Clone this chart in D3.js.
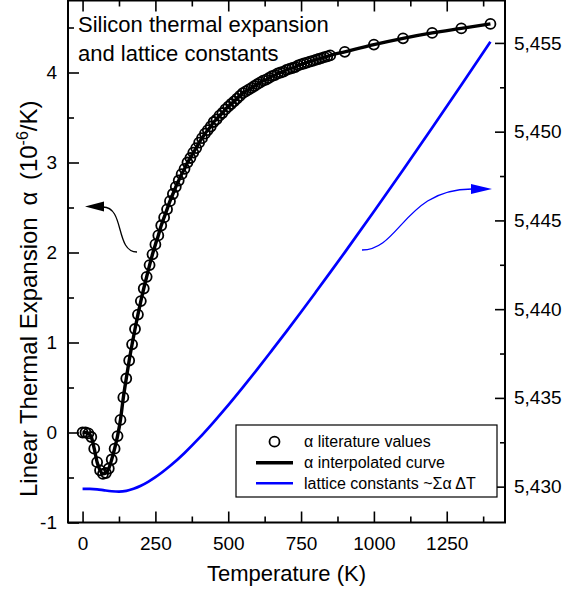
<!DOCTYPE html>
<html>
<head>
<meta charset="utf-8">
<script src="https://cdn.jsdelivr.net/npm/d3@7"></script>
<style>
  html, body { margin: 0; padding: 0; background: #fff; }
  svg { display: block; font-family: Arial, "Liberation Sans", sans-serif; }
</style>
</head>
<body>
<svg id="chart" width="564" height="592"></svg>
<script>
// Literature values of the linear thermal expansion coefficient of silicon (10^-6 / K)
const tempLit = [
  0, 10, 20, 30, 40, 50, 60, 70, 80, 90,
  100, 110, 120, 130, 140, 150, 160, 170, 180, 190,
  200, 210, 220, 230, 240, 250, 260, 270, 280, 290,
  300, 310, 320, 330, 340, 350, 360, 370, 380, 390,
  400, 410, 420, 430, 440, 450, 460, 470, 480, 490,
  500, 510, 520, 530, 540, 550, 560, 570, 580, 590,
  600, 610, 620, 630, 640, 650, 660, 670, 680, 690,
  700, 710, 720, 730, 740, 750, 760, 770, 780, 790,
  800, 810, 820, 830, 840, 850,
  900, 1000, 1100, 1200, 1300, 1400
];
const alphaLit = [
  0.00, 0.00, -0.01, -0.05, -0.18, -0.33, -0.42, -0.46, -0.45, -0.40,
  -0.30, -0.18, -0.04, 0.14, 0.39, 0.60, 0.80, 0.98, 1.15, 1.31,
  1.46, 1.60, 1.73, 1.86, 1.98, 2.09, 2.19, 2.30, 2.39, 2.48,
  2.57, 2.65, 2.73, 2.80, 2.87, 2.93, 3.00, 3.05, 3.11, 3.16,
  3.22, 3.27, 3.32, 3.36, 3.40, 3.45, 3.48, 3.52, 3.55, 3.59,
  3.62, 3.65, 3.68, 3.71, 3.74, 3.77, 3.79, 3.81, 3.83, 3.85,
  3.87, 3.89, 3.91, 3.92, 3.94, 3.96, 3.97, 3.99, 4.00, 4.01,
  4.03, 4.04, 4.05, 4.06, 4.08, 4.09, 4.10, 4.11, 4.12, 4.13,
  4.14, 4.15, 4.16, 4.17, 4.18, 4.19,
  4.23, 4.31, 4.38, 4.44, 4.49, 4.54
];

// Lattice constant obtained by summing alpha * dT (right axis)
const tempLattice = [0, 25, 50, 75, 100, 125, 150, 175, 200, 225, 250, 300, 350, 400,
  450, 500, 550, 600, 650, 700, 750, 800, 850, 900, 1000, 1100, 1200, 1300, 1400];
const latticeA = [5.42987, 5.42987, 5.42985, 5.42979, 5.42974, 5.42972, 5.42976,
  5.42988, 5.43005, 5.43027, 5.43053, 5.43116, 5.43190, 5.43273, 5.43364,
  5.43459, 5.43559, 5.43662, 5.43768, 5.43875, 5.43984, 5.44095, 5.44207,
  5.44320, 5.44550, 5.44784, 5.45022, 5.45263, 5.45506];

// Axis ticks
const xTicks = [0, 250, 500, 750, 1000, 1250];
const xMinorTicks = [125, 375, 625, 875, 1125, 1375];
const yLeftTicks = [-1, 0, 1, 2, 3, 4];
const yLeftMinorTicks = [-0.5, 0.5, 1.5, 2.5, 3.5, 4.5];
const yRightTicks = [5.430, 5.435, 5.440, 5.445, 5.450, 5.455];
const yRightMinorTicks = [5.4325, 5.4375, 5.4425, 5.4475, 5.4525];

const legendLabels = ["\u03b1 literature values", "\u03b1 interpolated curve", "lattice constants ~\u03a3\u03b1 \u0394T"];

const svg = d3.select("#chart");
const plot = { left: 68, right: 505, top: 0.5, bottom: 522.5 };

const x = d3.scaleLinear().domain([-50, 1450]).range([plot.left, plot.right]);
const yL = d3.scaleLinear().domain([-1, 4.8]).range([plot.bottom, plot.top]);
const yR = d3.scaleLinear().domain([5.42798, 5.45739]).range([plot.bottom, plot.top]);

const plainFmt = d => String(d);
const commaFmt = d => d3.format(".3f")(d).replace(".", ",");

function styleAxis(g) {
  g.select(".domain").remove();
  g.selectAll(".tick line").attr("stroke", "#000").attr("stroke-width", 1.6);
  g.selectAll(".tick text").attr("fill", "#000").style("font-size", "19px")
    .style("font-family", "Arial, 'Liberation Sans', sans-serif");
}

// bottom axis (ticks point inward)
svg.append("g").attr("transform", `translate(0,${plot.bottom})`)
  .call(d3.axisBottom(x).tickValues(xTicks).tickSize(-11).tickPadding(14).tickFormat(plainFmt))
  .call(styleAxis);
svg.append("g").attr("transform", `translate(0,${plot.bottom})`)
  .call(d3.axisBottom(x).tickValues(xMinorTicks).tickSize(-6).tickFormat(""))
  .call(styleAxis);
// top mirror ticks
svg.append("g").attr("transform", `translate(0,${plot.top})`)
  .call(d3.axisTop(x).tickValues(xTicks).tickSize(-11).tickFormat(""))
  .call(styleAxis);
svg.append("g").attr("transform", `translate(0,${plot.top})`)
  .call(d3.axisTop(x).tickValues(xMinorTicks).tickSize(-6).tickFormat(""))
  .call(styleAxis);

// left axis
svg.append("g").attr("transform", `translate(${plot.left},0)`)
  .call(d3.axisLeft(yL).tickValues(yLeftTicks).tickSize(-11).tickPadding(11).tickFormat(plainFmt))
  .call(styleAxis);
svg.append("g").attr("transform", `translate(${plot.left},0)`)
  .call(d3.axisLeft(yL).tickValues(yLeftMinorTicks).tickSize(-6).tickFormat(""))
  .call(styleAxis);

// right axis (lattice constant)
svg.append("g").attr("transform", `translate(${plot.right},0)`)
  .call(d3.axisRight(yR).tickValues(yRightTicks).tickSize(-10).tickPadding(9).tickFormat(commaFmt))
  .call(styleAxis);
svg.append("g").attr("transform", `translate(${plot.right},0)`)
  .call(d3.axisRight(yR).tickValues(yRightMinorTicks).tickSize(-5).tickFormat(""))
  .call(styleAxis);

// plot frame
svg.append("rect")
  .attr("x", plot.left).attr("y", plot.top)
  .attr("width", plot.right - plot.left).attr("height", plot.bottom - plot.top)
  .attr("fill", "none").attr("stroke", "#000").attr("stroke-width", 2);

// lattice constant curve
const latticeData = tempLattice.map((t, i) => [t, latticeA[i]]);
svg.append("path")
  .datum(latticeData)
  .attr("fill", "none").attr("stroke", "#0000ff").attr("stroke-width", 2.7)
  .attr("d", d3.line().x(d => x(d[0])).y(d => yR(d[1])).curve(d3.curveMonotoneX));

// literature points
const litData = tempLit.map((t, i) => [t, alphaLit[i]]);
svg.append("g").selectAll("circle")
  .data(litData).join("circle")
  .attr("cx", d => x(d[0])).attr("cy", d => yL(d[1])).attr("r", 5)
  .attr("fill", "none").attr("stroke", "#000").attr("stroke-width", 1.8);

// interpolated curve
svg.append("path")
  .datum(litData)
  .attr("fill", "none").attr("stroke", "#000").attr("stroke-width", 3.4)
  .attr("d", d3.line().x(d => x(d[0])).y(d => yL(d[1])).curve(d3.curveMonotoneX));

// arrows pointing to the axis each curve belongs to
svg.append("path")
  .attr("d", "M137,252 C115,252 125,207 103,207")
  .attr("fill", "none").attr("stroke", "#000").attr("stroke-width", 1.3);
svg.append("path")
  .attr("d", "M85,206.5 L104,201.5 L104,211.5 Z").attr("fill", "#000");
svg.append("path")
  .attr("d", "M362,250 C400,250 405,189 472,189")
  .attr("fill", "none").attr("stroke", "#0000ff").attr("stroke-width", 1.3);
svg.append("path")
  .attr("d", "M492,189 L471,184 L471,194 Z").attr("fill", "#0000ff");

// title
const title = svg.append("text").attr("x", 78).style("font-size", "22px").attr("fill", "#000");
title.append("tspan").attr("x", 78).attr("y", 32).text("Silicon thermal expansion");
title.append("tspan").attr("x", 78).attr("y", 60.5).text("and lattice constants");

// axis titles
svg.append("text")
  .attr("x", (plot.left + plot.right) / 2).attr("y", 581)
  .attr("text-anchor", "middle").style("font-size", "22px")
  .text("Temperature (K)");

// y title, written upward from the bottom of the frame
const yTitle = svg.append("text")
  .attr("transform", "translate(37,497) rotate(-90)")
  .attr("text-anchor", "start").style("font-size", "24px");
yTitle.append("tspan").text("Linear Thermal Expansion ");
yTitle.append("tspan").attr("dx", 5).text("\u03b1 ");
yTitle.append("tspan").attr("dx", 5).text("(10");
yTitle.append("tspan").attr("dy", -9).style("font-size", "16px").text("-6");
yTitle.append("tspan").attr("dy", 9).text("/K)");

// legend
const legend = svg.append("g");
legend.append("rect").attr("x", 236).attr("y", 425).attr("width", 261).attr("height", 72)
  .attr("fill", "#fff").attr("stroke", "#000").attr("stroke-width", 1.2);
const rowY = [441.7, 462.7, 483.3];
legend.append("circle").attr("cx", 274.5).attr("cy", rowY[0]).attr("r", 5)
  .attr("fill", "none").attr("stroke", "#000").attr("stroke-width", 1.8);
legend.append("line").attr("x1", 256).attr("x2", 293).attr("y1", rowY[1]).attr("y2", rowY[1])
  .attr("stroke", "#000").attr("stroke-width", 3.4);
legend.append("line").attr("x1", 256).attr("x2", 293).attr("y1", rowY[2]).attr("y2", rowY[2])
  .attr("stroke", "#0000ff").attr("stroke-width", 2.4);
legend.selectAll("text.lbl").data(legendLabels).join("text")
  .attr("class", "lbl")
  .attr("x", 304).attr("y", (d, i) => rowY[i] + 5.6)
  .style("font-size", "16px").text(d => d);
</script>
</body>
</html>
